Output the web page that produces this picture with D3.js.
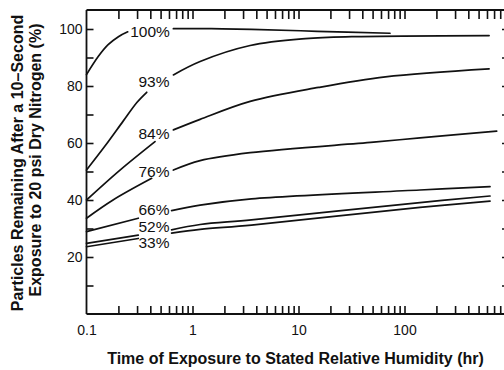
<!DOCTYPE html>
<html><head><meta charset="utf-8">
<script src="https://cdn.jsdelivr.net/npm/d3@7"></script>
<style>body{margin:0;background:#fff}svg{display:block}</style>
</head><body><svg id="c" width="504" height="370"></svg>
<script>
// ---- data (hours, % remaining); null marks the gap left for the curve label
const seriesNames = ["100%", "93%", "84%", "76%", "66%", "52%", "33%"];
const rh100 = [[0.1,84],[0.13,90.5],[0.16,94.5],[0.2,97.3],[0.245,99],null,[0.66,100.1],[1.5,100.1],[3.6,99.9],[15,99.2],[73,98.5]];
const rh93  = [[0.1,50.5],[0.15,59],[0.22,67.5],[0.3,74.3],[0.37,77.8],null,[0.66,83.9],[1.18,88.6],[3.5,94.2],[11.6,96.6],[31.8,97.3],[628,97.7]];
const rh84  = [[0.1,40],[0.207,50.5],[0.443,60.5],null,[0.66,64.6],[1.18,68.3],[3.5,74.6],[15.5,79.5],[66,83.2],[628,86]];
const rh76  = [[0.1,33.6],[0.178,40],[0.412,47.6],null,[0.66,50.5],[1.18,53.8],[3.5,56.6],[51,60.3],[140,61.8],[741,64.2]];
const rh66  = [[0.1,28.9],[0.308,33.6],null,[0.635,36.3],[1.18,38.2],[3.6,40.4],[140,43.5],[641,44.7]];
const rh52  = [[0.1,24.8],[0.308,27.7],null,[0.635,29.5],[1.18,31.4],[3.6,33.0],[140,39.1],[641,41.4]];
const rh33  = [[0.1,23.6],[0.308,26.5],null,[0.635,28.4],[1.18,29.7],[3.6,31.2],[140,37.4],[641,39.6]];
const labelHours  = [0.397, 0.433, 0.433, 0.433, 0.433, 0.433, 0.433];
const labelValues = [99.1, 81.5, 63.4, 49.9, 36.7, 30.6, 25.0];

const xMajorTicks = [0.1, 1, 10, 100];
const xTickLabels = ["0.1", "1", "10", "100"];
const xMinorTicks = [];
[0.1, 1, 10, 100].forEach(d => { for (let n = 1; n <= 9; n++) { const v = +(d * n).toPrecision(3); if (v > 0.1) xMinorTicks.push(v); } });
const yTicks = [10, 20, 30, 40, 50, 60, 70, 80, 90, 100];
const yLabelled = [20, 40, 60, 80, 100];

const xTitle = "Time of Exposure to Stated Relative Humidity (hr)";
const yTitle1 = "Particles Remaining After a 10\u2013Second";
const yTitle2 = "Exposure to 20 psi Dry Nitrogen (%)";

// ---- layout
const L = 86.5, R = 510, T = 10, B = 314;
const x = d3.scaleLog().domain([0.1, 1000]).range([L, L + 106 * 4]);
const y = d3.scaleLinear().domain([0, 100]).range([B, 29]);
const ink = "#111";
const svg = d3.select("#c");
const FONT = "'Liberation Sans', Arial, Helvetica, sans-serif";

// frame
svg.append("g").attr("stroke", ink).attr("stroke-width", 1.8).attr("fill", "none")
  .selectAll("line").data([[L,T,L,B],[L,B,R,B],[L,T,R,T],[R,T,R,B]]).join("line")
  .attr("x1", d => d[0]).attr("y1", d => d[1]).attr("x2", d => d[2]).attr("y2", d => d[3]);

function styleAxis(g) {
  g.select(".domain").remove();
  g.selectAll(".tick line").attr("stroke", ink).attr("stroke-width", 1.6);
  g.selectAll("text").attr("fill", ink).attr("font-family", FONT).attr("font-size", 14);
}

// bottom ticks (inward) + labels
svg.append("g").attr("transform", `translate(0,${B})`)
  .call(d3.axisBottom(x).tickValues(xMinorTicks).tickSize(-8).tickFormat(""))
  .call(styleAxis);
svg.append("g").attr("transform", `translate(0,${B})`)
  .call(d3.axisBottom(x).tickValues(xMajorTicks).tickSize(0).tickPadding(11)
    .tickFormat((d, i) => xTickLabels[i]))
  .call(styleAxis);
// top ticks (inward)
svg.append("g").attr("transform", `translate(0,${T})`)
  .call(d3.axisTop(x).tickValues(xMinorTicks).tickSize(-9).tickFormat(""))
  .call(styleAxis);
// left ticks (inward) + labels
svg.append("g").attr("transform", `translate(${L},0)`)
  .call(d3.axisLeft(y).tickValues(yTicks).tickSize(-7).tickPadding(4)
    .tickFormat(d => yLabelled.includes(d) ? d : ""))
  .call(styleAxis);
// right ticks (inward)
svg.append("g").attr("transform", `translate(${R},0)`)
  .call(d3.axisRight(y).tickValues(yTicks).tickSize(-8).tickFormat(""))
  .call(styleAxis);

// curves
const allSeries = [rh100, rh93, rh84, rh76, rh66, rh52, rh33];
const line = d3.line().defined(d => d !== null)
  .x(d => x(d[0])).y(d => y(d[1])).curve(d3.curveCatmullRom.alpha(0.5));
svg.append("g").attr("fill", "none").attr("stroke", ink).attr("stroke-width", 1.7)
  .attr("stroke-linecap", "round")
  .selectAll("path").data(allSeries).join("path").attr("d", line);

// curve labels
svg.append("g").selectAll("text").data(seriesNames).join("text")
  .attr("x", (d, i) => x(labelHours[i])).attr("y", (d, i) => y(labelValues[i]))
  .attr("dy", "0.36em").attr("text-anchor", "middle")
  .attr("font-family", FONT).attr("font-size", 15.5).attr("fill", ink)
  .text(d => d);

// axis titles
svg.append("text").attr("x", 295.5).attr("y", 363.5).attr("text-anchor", "middle")
  .attr("font-family", FONT).attr("font-weight", "bold").attr("font-size", 16).attr("fill", ink)
  .text(xTitle);
svg.append("text").attr("transform", "translate(22.5,163) rotate(-90)").attr("text-anchor", "middle")
  .attr("font-family", FONT).attr("font-weight", "bold").attr("font-size", 16).attr("fill", ink)
  .text(yTitle1);
svg.append("text").attr("transform", "translate(41,160) rotate(-90)").attr("text-anchor", "middle")
  .attr("font-family", FONT).attr("font-weight", "bold").attr("font-size", 16).attr("fill", ink)
  .text(yTitle2);
</script></body></html>
